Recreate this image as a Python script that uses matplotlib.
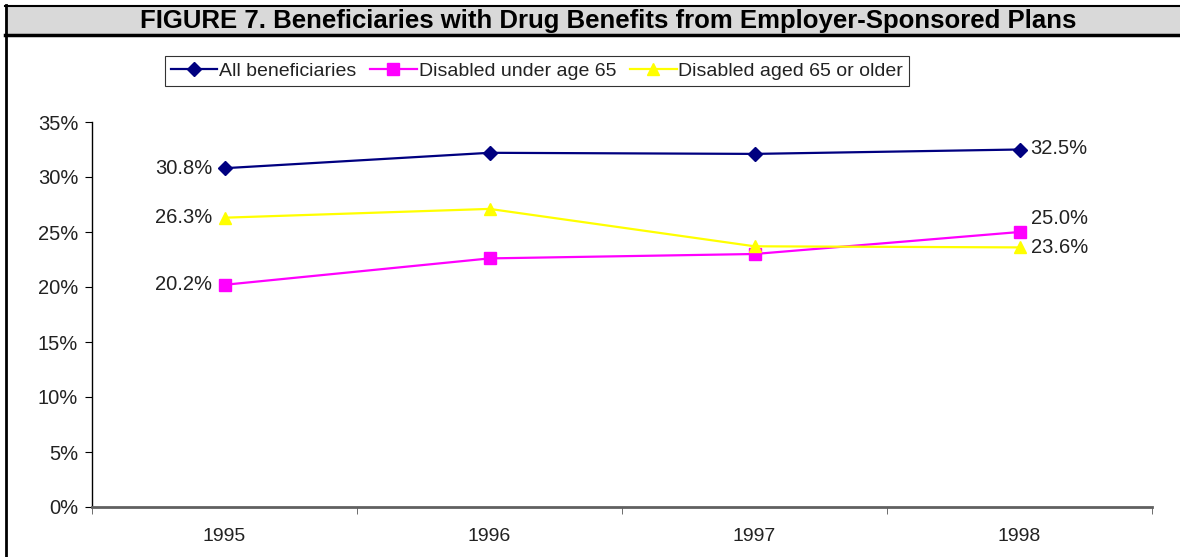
import matplotlib.pyplot as plt
from matplotlib.patches import Rectangle
from matplotlib.lines import Line2D

plt.rcParams['font.family'] = ['Liberation Sans', 'DejaVu Sans']

years = ['1995', '1996', '1997', '1998']
all_benef = [30.8, 32.2, 32.1, 32.5]
disabled_under65 = [20.2, 22.6, 23.0, 25.0]
disabled_65plus = [26.3, 27.1, 23.7, 23.6]
yticks = [0, 5, 10, 15, 20, 25, 30, 35]

fig = plt.figure(figsize=(11.8, 5.57), dpi=100)
W, H = 1180, 557

# title band with frame
fig.patches.append(Rectangle((5 / W, 1 - 35 / H), 1 - 5 / W, 30 / H, transform=fig.transFigure,
                             facecolor='#d9d9d9', edgecolor='none'))
fig.lines.append(Line2D([5 / W, 1], [1 - 5.5 / H] * 2, transform=fig.transFigure, color='black', lw=1.5))
fig.lines.append(Line2D([5 / W, 1], [1 - 35 / H] * 2, transform=fig.transFigure, color='black', lw=2.5))
fig.lines.append(Line2D([6 / W] * 2, [0, 1 - 5 / H], transform=fig.transFigure, color='black', lw=2))
fig.text(608 / W, 1 - 21 / H, 'FIGURE 7. Beneficiaries with Drug Benefits from Employer-Sponsored Plans',
         ha='center', va='center', fontsize=18.5, fontweight='bold', color='black')

ax = fig.add_axes([92 / W, 50 / H, 1060 / W, 385 / H])
x = range(1, len(years) + 1)

l1, = ax.plot(x, all_benef, color='#000080', lw=1.6, marker='D', ms=7, label='All beneficiaries', clip_on=False)
l2, = ax.plot(x, disabled_under65, color='#ff00ff', lw=1.6, marker='s', ms=8, label='Disabled under age 65', clip_on=False)
l3, = ax.plot(x, disabled_65plus, color='#ffff00', lw=1.6, marker='^', ms=9, label='Disabled aged 65 or older', clip_on=False)

ax.set_xlim(0.5, 4.5)
ax.set_ylim(0, 35)
ax.set_yticks(yticks)
ax.set_yticklabels([f'{t}%' for t in yticks])
ax.set_xticks(list(x))
ax.set_xticklabels(years)
ax.set_xticks([0.5, 1.5, 2.5, 3.5, 4.5], minor=True)
ax.tick_params(axis='x', which='major', length=0, pad=15, labelsize=14, labelcolor='#222222')
ax.tick_params(axis='x', which='minor', length=5, direction='out', color='#555555')
ax.tick_params(axis='y', length=5, direction='out', pad=5, labelsize=14.5, labelcolor='#222222')

for s in ['top', 'right']:
    ax.spines[s].set_visible(False)
ax.spines['left'].set_linewidth(1)
ax.spines['bottom'].set_color('#606060')
ax.spines['bottom'].set_linewidth(2)

lab = dict(fontsize=14.5, color='#222222', va='center')
ax.annotate(f'{all_benef[0]:.1f}%', (1, all_benef[0]), xytext=(-9, 0), textcoords='offset points', ha='right', **lab)
ax.annotate(f'{disabled_65plus[0]:.1f}%', (1, disabled_65plus[0]), xytext=(-9, 0), textcoords='offset points', ha='right', **lab)
ax.annotate(f'{disabled_under65[0]:.1f}%', (1, disabled_under65[0]), xytext=(-9, 0), textcoords='offset points', ha='right', **lab)
ax.annotate(f'{all_benef[-1]:.1f}%', (4, all_benef[-1]), xytext=(8, 1), textcoords='offset points', ha='left', **lab)
ax.annotate(f'{disabled_under65[-1]:.1f}%', (4, disabled_under65[-1]), xytext=(8, 10), textcoords='offset points', ha='left', **lab)
ax.annotate(f'{disabled_65plus[-1]:.1f}%', (4, disabled_65plus[-1]), xytext=(8, 0), textcoords='offset points', ha='left', **lab)

leg = fig.legend(handles=[l1, l2, l3], loc='center', bbox_to_anchor=(537 / W, 1 - 71 / H), ncol=3,
                 fontsize=14, frameon=True, fancybox=False, edgecolor='black', handlelength=2.4,
                 handletextpad=0.1, columnspacing=0.7, borderpad=0.3, labelcolor='#222222')
leg.get_frame().set_linewidth(0.8)

fig.savefig('out.png', dpi=100)
